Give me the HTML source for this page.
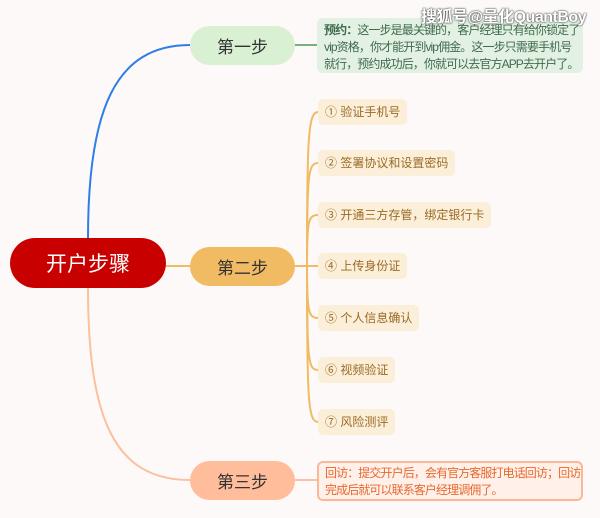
<!DOCTYPE html>
<html><head><meta charset="utf-8"><style>
body{margin:0;width:600px;height:518px;background:#fdf9f8;position:relative;overflow:hidden;font-family:"Liberation Sans","Noto Sans CJK SC",sans-serif}
.p{position:absolute;border-radius:20px;display:flex;align-items:center;justify-content:center;font-size:17px;color:#333}
.it{position:absolute;left:318px;height:26px;line-height:26px;background:#fcefd9;border-radius:5px;padding:0 7px;font-size:12px;color:#9a6a25}
.n{position:absolute;font-size:12px;line-height:17px;border-radius:6px;padding:4px 7px;box-sizing:border-box;white-space:nowrap;letter-spacing:-0.9px}
</style></head><body>
<svg width="600" height="518" style="position:absolute;left:0;top:0">
<path d="M88 238 C88 110 115 45 190 45" stroke="#2f7ee8" stroke-width="2" fill="none"/>
<path d="M88 288 C88 420 115 480 190 480" stroke="#fdbf9f" stroke-width="2" fill="none"/>
<line x1="166" y1="266" x2="190" y2="266" stroke="#f0bb62" stroke-width="2"/>
<line x1="295" y1="45" x2="317" y2="45" stroke="#7ab07e" stroke-width="2"/>
<line x1="295" y1="480" x2="317" y2="480" stroke="#fdbf9f" stroke-width="2"/>
<g stroke="#f0bb62" stroke-width="2" fill="none">
<line x1="295" y1="266" x2="318" y2="266"/>
<path d="M307 266 C307 140 308 112 318 112"/>
<path d="M307 266 C307 175 308 163 318 163"/>
<path d="M307 266 C307 222 308 215 318 215"/>
<path d="M307 266 C307 310 308 318 318 318"/>
<path d="M307 266 C307 360 308 370 318 370"/>
<path d="M307 266 C307 400 308 422 318 422"/>
</g>
</svg>
<div class="p" style="left:10px;top:238px;width:156px;height:50px;border-radius:25px;background:#c80000;color:#fff;font-size:21px">开户步骤</div>
<div class="p" style="left:190px;top:26px;width:105px;height:39px;background:#d9f0d3">第一步</div>
<div class="p" style="left:190px;top:247px;width:105px;height:39px;background:#f0bb62">第二步</div>
<div class="p" style="left:190px;top:461px;width:105px;height:39px;background:#ffbd9b">第三步</div>
<div class="n" style="left:317px;top:18px;width:266px;height:55px;background:#e3f1e5;color:#3f6b4a"><b>预约：</b>这一步是最关键的，客户经理只有给你锁定了<br>vip资格，你才能开到vip佣金。这一步只需要手机号<br>就行，预约成功后，你就可以去官方APP去开户了。</div>
<div class="n" style="left:317px;top:461px;width:266px;height:40px;background:#fff0ea;border:2px solid #fbb897;color:#e8682c;padding:2px 6px">回访：提交开户后，会有官方客服打电话回访；回访<br>完成后就可以联系客户经理调佣了。</div>
<div class="it" style="top:99px">① 验证手机号</div>
<div class="it" style="top:150px">② 签署协议和设置密码</div>
<div class="it" style="top:202px">③ 开通三方存管，绑定银行卡</div>
<div class="it" style="top:253px">④ 上传身份证</div>
<div class="it" style="top:305px">⑤ 个人信息确认</div>
<div class="it" style="top:357px">⑥ 视频验证</div>
<div class="it" style="top:409px">⑦ 风险测评</div>
<div style="position:absolute;left:421px;top:3px;font-size:16px;font-weight:bold;color:#fff;text-shadow:0 0 2px #444,0 0 1px #222;letter-spacing:-0.5px">搜狐号@量化QuantBoy</div>
</body></html>
